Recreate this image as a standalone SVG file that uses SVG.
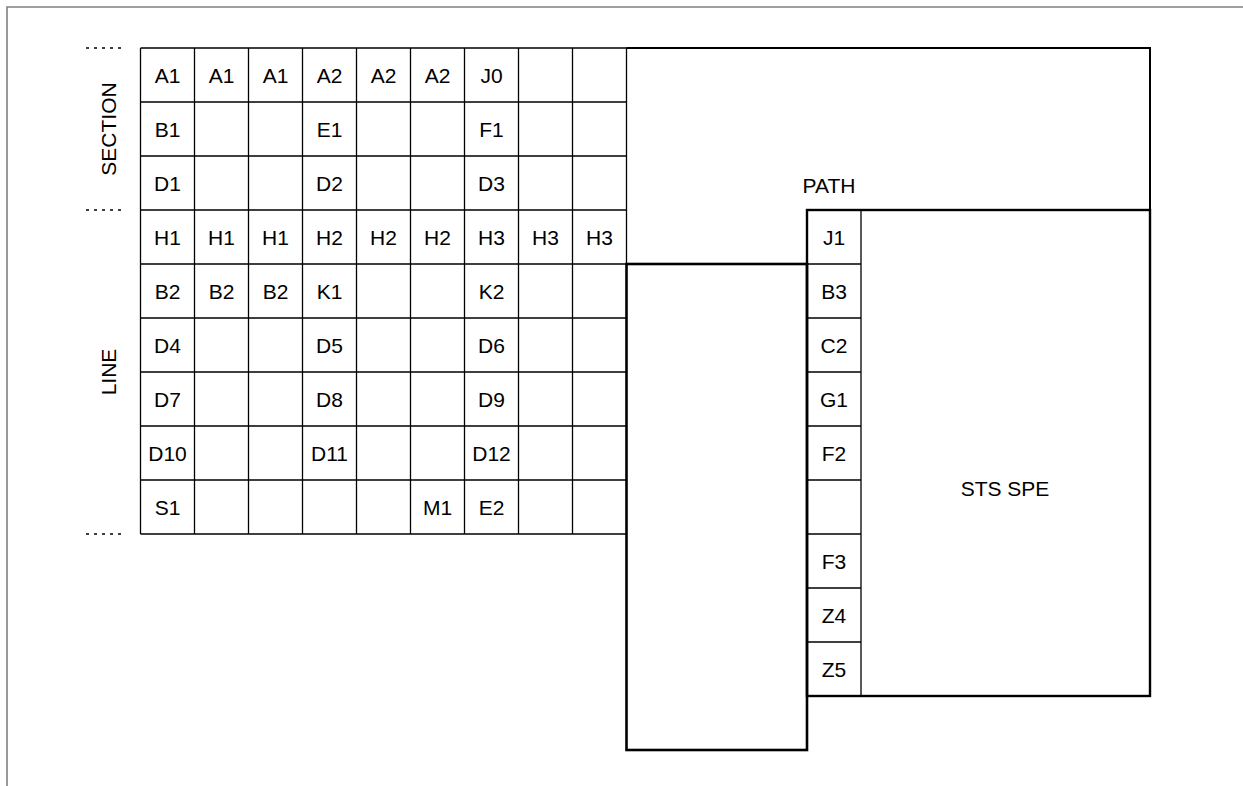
<svg xmlns="http://www.w3.org/2000/svg" width="1243" height="786" viewBox="0 0 1243 786">
<style>
text{font-family:"Liberation Sans",Arial,sans-serif;font-size:21px;fill:#000;text-anchor:middle}
.thin{fill:none;stroke:#000;stroke-width:1.3}
.thick{fill:none;stroke:#000;stroke-width:2.4}
.dot{fill:none;stroke:#000;stroke-width:1.6;stroke-dasharray:3 5}
.frame{fill:none;stroke:#808080;stroke-width:1.6}
</style>
<rect x="0" y="0" width="1243" height="786" fill="#fff"/>
<path class="frame" d="M7,786 V7 H1243"/>
<g id="dividers">
<path class="dot" d="M86,48 H124 M86,210 H124 M86,534 H124"/>
</g>
<g id="label-section"><text transform="translate(115.5,129) rotate(-90)">SECTION</text></g>
<g id="label-line"><text transform="translate(115.5,372) rotate(-90)">LINE</text></g>
<g id="grid">
<path class="thin" d="M140.5,48 V534 M194.5,48 V534 M248.5,48 V534 M302.5,48 V534 M356.5,48 V534 M410.5,48 V534 M464.5,48 V534 M518.5,48 V534 M572.5,48 V534 M626.5,48 V264
M140.5,48 H627 M140.5,102 H626.5 M140.5,156 H626.5 M140.5,210 H626.5 M140.5,264 H626.5 M140.5,318 H626.5 M140.5,372 H626.5 M140.5,426 H626.5 M140.5,480 H626.5 M140.5,534 H626.5"/>
</g>
<g id="cells">
<g id="r0"><text x="167.5" y="83">A1</text><text x="221.5" y="83">A1</text><text x="275.5" y="83">A1</text><text x="329.5" y="83">A2</text><text x="383.5" y="83">A2</text><text x="437.5" y="83">A2</text><text x="491.5" y="83">J0</text></g>
<g id="r1"><text x="167.5" y="137">B1</text><text x="329.5" y="137">E1</text><text x="491.5" y="137">F1</text></g>
<g id="r2"><text x="167.5" y="191">D1</text><text x="329.5" y="191">D2</text><text x="491.5" y="191">D3</text></g>
<g id="r3"><text x="167.5" y="245">H1</text><text x="221.5" y="245">H1</text><text x="275.5" y="245">H1</text><text x="329.5" y="245">H2</text><text x="383.5" y="245">H2</text><text x="437.5" y="245">H2</text><text x="491.5" y="245">H3</text><text x="545.5" y="245">H3</text><text x="599.5" y="245">H3</text></g>
<g id="r4"><text x="167.5" y="299">B2</text><text x="221.5" y="299">B2</text><text x="275.5" y="299">B2</text><text x="329.5" y="299">K1</text><text x="491.5" y="299">K2</text></g>
<g id="r5"><text x="167.5" y="353">D4</text><text x="329.5" y="353">D5</text><text x="491.5" y="353">D6</text></g>
<g id="r6"><text x="167.5" y="407">D7</text><text x="329.5" y="407">D8</text><text x="491.5" y="407">D9</text></g>
<g id="r7"><text x="167.5" y="461">D10</text><text x="329.5" y="461">D11</text><text x="491.5" y="461">D12</text></g>
<g id="r8"><text x="167.5" y="515">S1</text><text x="437.5" y="515">M1</text><text x="491.5" y="515">E2</text></g>
</g>
<g id="sts-frame"><path class="thick" d="M626.5,48 H1150 V210" style="stroke-width:2"/></g>
<g id="pointer-box"><rect class="thick" x="626.5" y="264" width="180.5" height="486" style="stroke-width:2.6"/></g>
<g id="path-overhead">
<path class="thin" d="M861,210 V696 M807,264 H861 M807,318 H861 M807,372 H861 M807,426 H861 M807,480 H861 M807,534 H861 M807,588 H861 M807,642 H861"/>
<text x="834" y="245">J1</text><text x="834" y="299">B3</text><text x="834" y="353">C2</text><text x="834" y="407">G1</text><text x="834" y="461">F2</text><text x="834" y="569">F3</text><text x="834" y="623">Z4</text><text x="834" y="677">Z5</text>
</g>
<g id="label-path"><text x="829" y="193">PATH</text></g>
<g id="sts-spe"><rect class="thick" x="807" y="210" width="343" height="486"/><text x="1005" y="496">STS SPE</text></g>
</svg>
